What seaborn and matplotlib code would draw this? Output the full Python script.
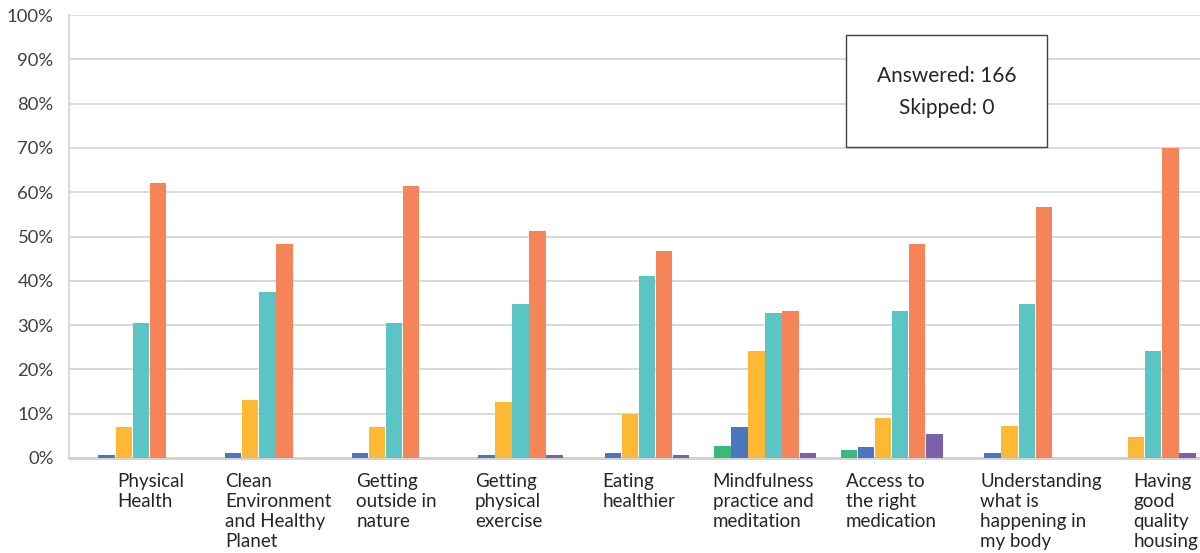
import matplotlib
matplotlib.use("Agg")
import matplotlib.pyplot as plt
import matplotlib.transforms as mtransforms
from matplotlib.ticker import PercentFormatter
import seaborn as sns
import pandas as pd

categories = [
    "Physical\nHealth",
    "Clean\nEnvironment\nand Healthy\nPlanet",
    "Getting\noutside in\nnature",
    "Getting\nphysical\nexercise",
    "Eating\nhealthier",
    "Mindfulness\npractice and\nmeditation",
    "Access to\nthe right\nmedication",
    "Understanding\nwhat is\nhappening in\nmy body",
    "Having\ngood\nquality\nhousing",
]

series = [
    "Not at all important",
    "Slightly important",
    "Moderately important",
    "Very important",
    "Extremely important",
    "Not applicable",
]

not_at_all = [0.0, 0.0, 0.0, 0.0, 0.0, 2.7, 1.8, 0.0, 0.0]
slightly = [0.6, 1.2, 1.2, 0.6, 1.2, 7.0, 2.4, 1.2, 0.0]
moderately = [7.0, 13.1, 7.0, 12.7, 10.0, 24.1, 9.0, 7.2, 4.8]
very = [30.5, 37.5, 30.5, 34.8, 41.1, 32.7, 33.1, 34.8, 24.1]
extremely = [62.0, 48.2, 61.4, 51.2, 46.7, 33.1, 48.2, 56.6, 69.9]
not_applicable = [0.0, 0.0, 0.0, 0.6, 0.6, 1.2, 5.4, 0.0, 1.2]

colors = ["#3cb878", "#4a77bd", "#fdb933", "#5bc5c6", "#f68459", "#7b60ab"]

answered = 166
skipped = 0

# left edge of each wrapped category label, in pixels from the category centre
label_left_px = [-15.5, -34, -29, -37, -36, -52.5, -46, -38, -11]

rows = []
for name, vals in zip(series, [not_at_all, slightly, moderately, very, extremely, not_applicable]):
    for cat, v in zip(categories, vals):
        rows.append({"category": cat, "response": name, "percent": v})
df = pd.DataFrame(rows)

sns.set_theme(style="white")
plt.rcParams["font.family"] = ["Lato", "DejaVu Sans"]

fig = plt.figure(figsize=(12, 5.53), dpi=100)
ax = fig.add_axes([69 / 1200, 1 - 458 / 553, 1139 / 1200, 443 / 553])

sns.barplot(
    data=df, x="category", y="percent", hue="response",
    order=categories, hue_order=series, palette=colors, saturation=1,
    width=0.81, gap=0.04, linewidth=0, legend=False, ax=ax, zorder=3,
)

ax.set_ylim(0, 100)
ax.set_xlim(-0.5, len(categories) - 0.5)
ax.set_yticks(range(0, 101, 10))
ax.yaxis.set_major_formatter(PercentFormatter(decimals=0))
ax.grid(axis="y", color="#d9d9d9", linewidth=1.4, zorder=0)
ax.set_axisbelow(True)
ax.set_xlabel("")
ax.set_ylabel("")

for side in ["top", "right"]:
    ax.spines[side].set_visible(False)
ax.spines["left"].set_color("#d9d9d9")
ax.spines["left"].set_linewidth(1.4)
ax.spines["bottom"].set_color("#d0d0d0")
ax.spines["bottom"].set_linewidth(2.0)

ax.tick_params(axis="both", length=0)
ax.tick_params(axis="y", labelsize=13.3, labelcolor="#404040", pad=11)
ax.tick_params(axis="x", labelsize=13.5, labelcolor="#262626", pad=11)

for lbl, off in zip(ax.get_xticklabels(), label_left_px):
    lbl.set_horizontalalignment("left")
    lbl.set_multialignment("left")
    lbl.set_linespacing(1.2)
    lbl.set_transform(lbl.get_transform()
                      + mtransforms.ScaledTranslation(off / 100, 0, fig.dpi_scale_trans))

fig.patches.append(plt.Rectangle(
    (846 / 1200, 1 - 147 / 553), 201 / 1200, 112 / 553,
    transform=fig.transFigure, facecolor="white", edgecolor="#404040",
    linewidth=1.0, zorder=10,
))
fig.text(947 / 1200, 1 - 76 / 553, f"Answered: {answered}", ha="center", va="center",
         fontsize=15, color="#262626", zorder=11)
fig.text(947 / 1200, 1 - 108 / 553, f"Skipped: {skipped}", ha="center", va="center",
         fontsize=15, color="#262626", zorder=11)

fig.savefig("out.png", dpi=100)
